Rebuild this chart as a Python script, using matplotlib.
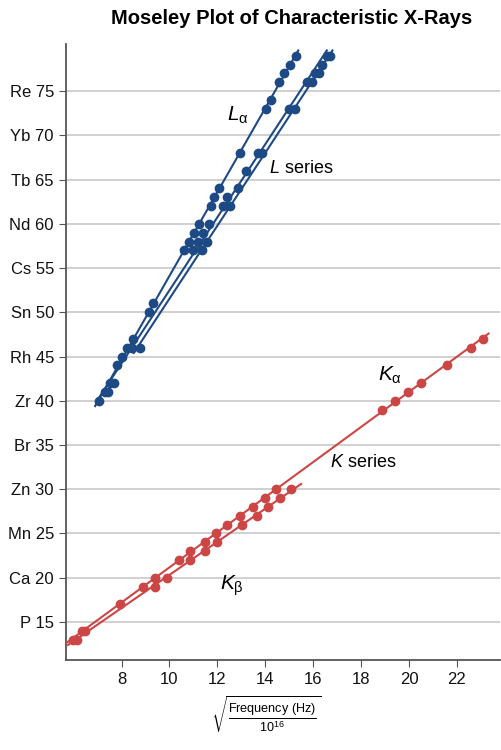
import numpy as np
import matplotlib
matplotlib.use("Agg")
import matplotlib.pyplot as plt

plt.rcParams["font.family"] = ["Liberation Sans", "DejaVu Sans"]
plt.rcParams["mathtext.fontset"] = "custom"
plt.rcParams["mathtext.rm"] = "Liberation Sans"
plt.rcParams["mathtext.it"] = "Liberation Sans:italic"
plt.rcParams["mathtext.bf"] = "Liberation Sans:bold"

AZUL = "#1d4a85"
VERMELHO = "#cc4646"

# K series (x = sqrt(f/1e16), y = Z)
k_alfa_x = [5.98, 6.33, 7.93, 8.90, 9.39, 10.41, 10.85, 11.48, 11.94, 12.39, 12.94, 13.47,
            13.99, 14.43, 18.86, 19.42, 19.94, 20.50, 21.58, 22.60, 23.07]
k_alfa_z = [13, 14, 17, 19, 20, 22, 23, 24, 25, 26, 27, 28, 29, 30, 39, 40, 41, 42, 44, 46, 47]
k_beta_x = [6.12, 6.47, 9.39, 9.88, 10.86, 11.48, 11.97, 13.04, 13.64, 14.13, 14.61, 15.07]
k_beta_z = [13, 14, 19, 20, 22, 23, 24, 26, 27, 28, 29, 30]

# L series
l_alfa_x = [7.06, 7.30, 7.51, 7.82, 8.03, 8.21, 8.46, 9.15, 9.32, 10.60, 10.83, 11.02, 11.24,
            11.72, 11.86, 12.08, 12.94, 14.02, 14.23, 14.57, 14.79, 15.03, 15.28]
l_alfa_z = [40, 41, 42, 44, 45, 46, 47, 50, 51, 57, 58, 59, 60, 62, 63, 64, 68, 73, 74, 76, 77, 78, 79]
l_2_x = [7.44, 7.68, 8.42, 11.00, 11.20, 11.41, 11.66, 12.22, 12.39, 13.18, 13.68, 15.00,
         15.73, 16.08, 16.36, 16.57]
l_2_z = [41, 42, 46, 57, 58, 59, 60, 62, 63, 66, 68, 73, 76, 77, 78, 79]
l_3_x = [8.76, 11.34, 11.55, 12.53, 12.85, 13.88, 15.24, 15.96, 16.26, 16.70]
l_3_z = [46, 57, 58, 62, 64, 68, 73, 76, 77, 79]

y_ticks = [15, 20, 25, 30, 35, 40, 45, 50, 55, 60, 65, 70, 75]
y_labels = ["P 15", "Ca 20", "Mn 25", "Zn 30", "Br 35", "Zr 40", "Rh 45", "Sn 50",
            "Cs 55", "Nd 60", "Tb 65", "Yb 70", "Re 75"]
x_ticks = [8, 10, 12, 14, 16, 18, 20, 22]

fig = plt.figure(figsize=(5.02, 7.5), dpi=100)
ax = fig.add_axes([0.131, 0.12, 0.865, 0.821])

series = [
    (k_alfa_x, k_alfa_z, VERMELHO),
    (k_beta_x, k_beta_z, VERMELHO),
    (l_alfa_x, l_alfa_z, AZUL),
    (l_2_x, l_2_z, AZUL),
    (l_3_x, l_3_z, AZUL),
]

for xs, zs, cor in series:
    xs = np.array(xs)
    zs = np.array(zs)
    a, b = np.polyfit(zs, xs, 1)
    zz = np.array([zs.min() - 0.6, zs.max() + 0.6])
    ax.plot(a * zz + b, zz, color=cor, lw=1.5, zorder=3)
    ax.plot(xs, zs, "o", color=cor, ms=6, zorder=4)

ax.set_xlim(5.67, 23.8)
ax.set_ylim(10.7, 80.3)
ax.set_xticks(x_ticks)
ax.set_yticks(y_ticks)
ax.set_yticklabels(y_labels)
ax.tick_params(labelsize=12, colors="#111111", length=5, direction="out")
ax.tick_params(color="#555555")
ax.grid(axis="y", color="#c8c8c8", lw=1.2)
ax.set_axisbelow(True)
for lado in ["top", "right"]:
    ax.spines[lado].set_visible(False)
for lado in ["left", "bottom"]:
    ax.spines[lado].set_color("#555555")
    ax.spines[lado].set_linewidth(1.3)

ax.text(12.4, 72.3, r"$L_{\mathrm{\alpha}}$", fontsize=15, ha="left", va="center")
ax.text(14.15, 66.3, r"$L$ series", fontsize=13, ha="left", va="center")
ax.text(18.7, 42.9, r"$K_{\mathrm{\alpha}}$", fontsize=15, ha="left", va="center")
ax.text(16.7, 33.0, r"$K$ series", fontsize=13, ha="left", va="center")
ax.text(12.1, 19.1, r"$K_{\mathrm{\beta}}$", fontsize=15, ha="left", va="center")

fig.text(0.58, 0.975, "Moseley Plot of Characteristic X-Rays", fontsize=14.5,
         fontweight="bold", ha="center", va="center")
fig.text(0.53, 0.048, r"$\sqrt{\frac{\mathrm{Frequency\ (Hz)}}{10^{16}}}$",
         fontsize=13, ha="center", va="center")

fig.savefig("out.png", dpi=100)
